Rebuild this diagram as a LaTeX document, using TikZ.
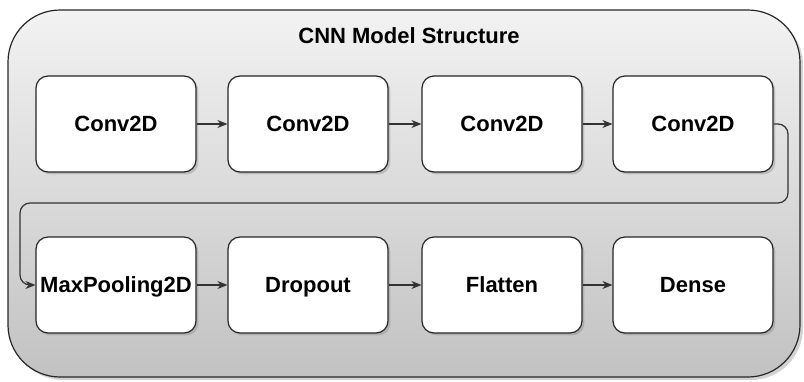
\documentclass[tikz,border=0pt]{standalone}
\usepackage{fontspec}
\setmainfont{Liberation Sans}
\usetikzlibrary{arrows.meta,shadows}
\begin{document}
\begin{tikzpicture}[x=0.5pt,y=-0.5pt,font=\fontsize{11}{13}\selectfont\bfseries,
	layer/.style={rectangle, rounded corners=6pt, draw=black!85, line width=0.6pt, fill=white,
		minimum width=80pt, minimum height=48pt, inner sep=0pt, text height=8pt, text depth=1pt,
		drop shadow={shadow xshift=1.2pt, shadow yshift=-1.2pt, opacity=0.35}},
	link/.style={-{Stealth[length=5pt,width=4pt]}, draw=black!80, line width=0.6pt}]
	\useasboundingbox (0,0) rectangle (804,381);
	\draw[rounded corners=26pt, draw=black!85, line width=0.6pt,
		top color=white!95!black, bottom color=white!76!black,
		drop shadow={shadow xshift=1.5pt, shadow yshift=-1.5pt, opacity=0.35}]
		(8,10) rectangle (800,377);
	\node (title) at (409, 36)	{CNN Model Structure};
	\node (C1) at (116, 124)	[layer]	{Conv2D};
	\node (C2) at (308, 124)	[layer]	{Conv2D};
	\node (C3) at (502, 124)	[layer]	{Conv2D};
	\node (C4) at (693, 124)	[layer]	{Conv2D};
	\node (MP) at (116, 285)	[layer]	{MaxPooling2D};
	\node (DO) at (308, 285)	[layer]	{Dropout};
	\node (FL) at (502, 285)	[layer]	{Flatten};
	\node (DE) at (693, 285)	[layer]	{Dense};
	\coordinate (t1) at (788, 203);
	\coordinate (t2) at (20, 203);
	\draw[link] (C1) -- (C2);
	\draw[link] (C2) -- (C3);
	\draw[link] (C3) -- (C4);
	\draw[link, rounded corners=5pt] (C4.east) -| (t1) -- (t2) |- (MP.west);
	\draw[link] (MP) -- (DO);
	\draw[link] (DO) -- (FL);
	\draw[link] (FL) -- (DE);
\end{tikzpicture}
\end{document}
